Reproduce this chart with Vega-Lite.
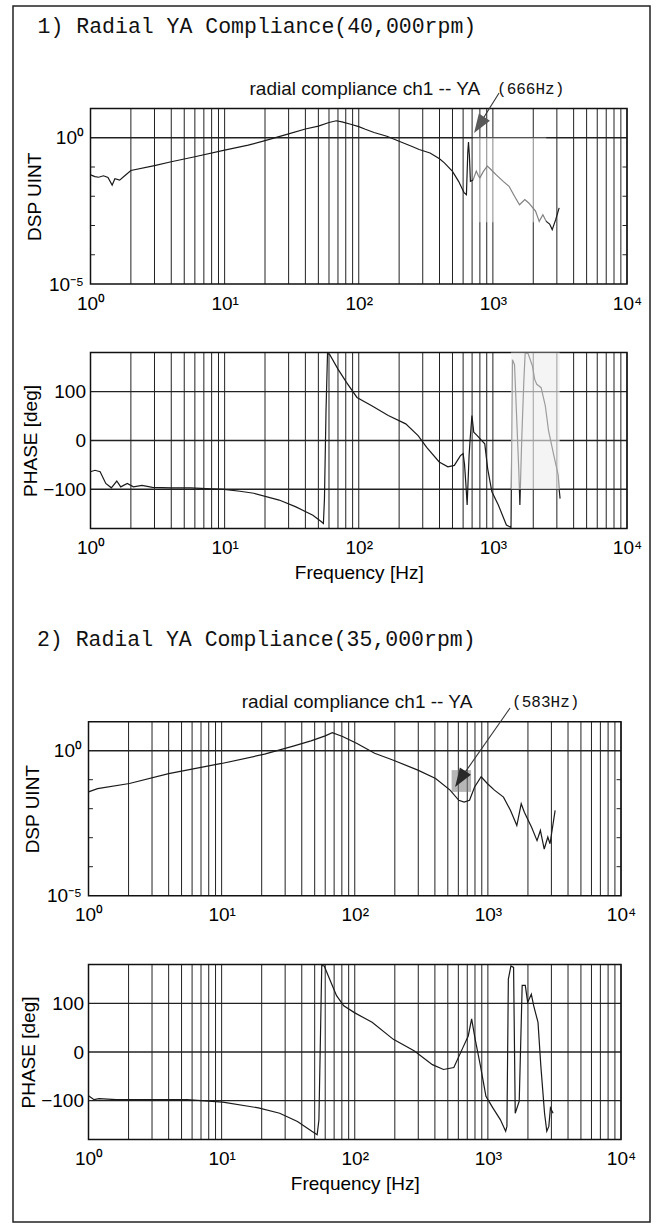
{
  "$schema": "https://vega.github.io/schema/vega-lite/v6.json",
  "width": 637,
  "height": 1216,
  "autosize": {"type": "none"},
  "padding": {"left": 13, "top": 6, "right": 9, "bottom": 3},
  "background": "white",
  "config": {
    "view": {"stroke": "#222", "strokeWidth": 1.5}
  },
  "datasets": {
    "grid": [
      {"f": 1}, {"f": 2}, {"f": 3}, {"f": 4}, {"f": 5}, {"f": 6}, {"f": 7}, {"f": 8}, {"f": 9},
      {"f": 10}, {"f": 20}, {"f": 30}, {"f": 40}, {"f": 50}, {"f": 60}, {"f": 70}, {"f": 80}, {"f": 90},
      {"f": 100}, {"f": 200}, {"f": 300}, {"f": 400}, {"f": 500}, {"f": 600}, {"f": 700}, {"f": 800}, {"f": 900},
      {"f": 1000}, {"f": 2000}, {"f": 3000}, {"f": 4000}, {"f": 5000}, {"f": 6000}, {"f": 7000}, {"f": 8000}, {"f": 9000},
      {"f": 10000}
    ],
    "magticks": [{"v": 0.1}, {"v": 0.01}, {"v": 0.001}, {"v": 0.0001}],
    "phgrid": [{"v": -100}, {"v": 0}, {"v": 100}],
    "mag1": [
      {"f": 1, "v": 0.0537}, {"f": 1.08, "v": 0.0468}, {"f": 1.15, "v": 0.0447}, {"f": 1.25, "v": 0.0501},
      {"f": 1.35, "v": 0.0437}, {"f": 1.45, "v": 0.024}, {"f": 1.52, "v": 0.0398}, {"f": 1.65, "v": 0.0355},
      {"f": 1.8, "v": 0.0501}, {"f": 2, "v": 0.0759}, {"f": 3, "v": 0.112}, {"f": 4, "v": 0.151},
      {"f": 6, "v": 0.224}, {"f": 10, "v": 0.38}, {"f": 15, "v": 0.562}, {"f": 20, "v": 0.794},
      {"f": 30, "v": 1.349}, {"f": 40, "v": 1.995}, {"f": 50, "v": 2.512}, {"f": 60, "v": 3.311},
      {"f": 68, "v": 3.802}, {"f": 75, "v": 3.467}, {"f": 87, "v": 2.884}, {"f": 100, "v": 2.399},
      {"f": 112, "v": 1.95}, {"f": 130, "v": 1.514}, {"f": 162, "v": 1.122}, {"f": 200, "v": 0.759},
      {"f": 250, "v": 0.501}, {"f": 282, "v": 0.398}, {"f": 340, "v": 0.302}, {"f": 400, "v": 0.191},
      {"f": 435, "v": 0.138}, {"f": 500, "v": 0.0708}, {"f": 555, "v": 0.0324}, {"f": 610, "v": 0.0132},
      {"f": 635, "v": 0.0112}, {"f": 650, "v": 0.316}, {"f": 658, "v": 0.708}, {"f": 668, "v": 0.251},
      {"f": 680, "v": 0.0324}, {"f": 711, "v": 0.0355}, {"f": 752, "v": 0.0724}, {"f": 780, "v": 0.0501},
      {"f": 800, "v": 0.0427}, {"f": 850, "v": 0.0708}, {"f": 908, "v": 0.107}, {"f": 950, "v": 0.0891},
      {"f": 1050, "v": 0.0562}, {"f": 1200, "v": 0.0316}, {"f": 1320, "v": 0.0219}, {"f": 1450, "v": 0.01},
      {"f": 1580, "v": 0.00513}, {"f": 1730, "v": 0.00776}, {"f": 1850, "v": 0.00589}, {"f": 2080, "v": 0.00309},
      {"f": 2215, "v": 0.00138}, {"f": 2360, "v": 0.00234}, {"f": 2500, "v": 0.00138}, {"f": 2650, "v": 0.00112},
      {"f": 2770, "v": 0.000724}, {"f": 2940, "v": 0.00158}, {"f": 3120, "v": 0.00398}
    ],
    "ph1": [
      {"f": 1, "v": -64}, {"f": 1.08, "v": -61}, {"f": 1.18, "v": -64}, {"f": 1.3, "v": -88}, {"f": 1.43, "v": -97},
      {"f": 1.57, "v": -83}, {"f": 1.68, "v": -95}, {"f": 1.88, "v": -88}, {"f": 2.09, "v": -95}, {"f": 2.42, "v": -92},
      {"f": 2.9, "v": -96}, {"f": 4, "v": -97}, {"f": 5.56, "v": -97}, {"f": 8, "v": -99}, {"f": 9.9, "v": -100},
      {"f": 13, "v": -104}, {"f": 16.5, "v": -108}, {"f": 25.5, "v": -122}, {"f": 34, "v": -136}, {"f": 45.5, "v": -153},
      {"f": 52.4, "v": -166}, {"f": 54.5, "v": -170}, {"f": 55.5, "v": -120}, {"f": 57, "v": 60}, {"f": 58.5, "v": 178},
      {"f": 60.7, "v": 176}, {"f": 70, "v": 146}, {"f": 81, "v": 119}, {"f": 97, "v": 88}, {"f": 125, "v": 71},
      {"f": 166, "v": 51}, {"f": 224, "v": 34}, {"f": 277, "v": 10}, {"f": 321, "v": -14}, {"f": 398, "v": -44},
      {"f": 462, "v": -54}, {"f": 516, "v": -51}, {"f": 573, "v": -31}, {"f": 600, "v": -27}, {"f": 615, "v": -50},
      {"f": 630, "v": -92}, {"f": 643, "v": -132}, {"f": 653, "v": -85}, {"f": 665, "v": -30}, {"f": 677, "v": 3},
      {"f": 698, "v": 51}, {"f": 720, "v": 17}, {"f": 764, "v": 10}, {"f": 823, "v": 0}, {"f": 870, "v": -7},
      {"f": 915, "v": -58}, {"f": 983, "v": -105}, {"f": 1098, "v": -132}, {"f": 1261, "v": -173}, {"f": 1365, "v": -178},
      {"f": 1400, "v": 165}, {"f": 1450, "v": 155}, {"f": 1560, "v": -60}, {"f": 1590, "v": -132}, {"f": 1640, "v": 0},
      {"f": 1700, "v": 119}, {"f": 1740, "v": 178}, {"f": 1830, "v": 178}, {"f": 1970, "v": 153}, {"f": 2050, "v": 125},
      {"f": 2125, "v": 115}, {"f": 2290, "v": 108}, {"f": 2460, "v": 71}, {"f": 2600, "v": 20}, {"f": 2850, "v": -31},
      {"f": 3070, "v": -71}, {"f": 3120, "v": -100}, {"f": 3170, "v": -119}
    ],
    "mag2": [
      {"f": 1, "v": 0.038}, {"f": 1.17, "v": 0.049}, {"f": 2.03, "v": 0.0741}, {"f": 4, "v": 0.162},
      {"f": 10, "v": 0.363}, {"f": 21, "v": 0.759}, {"f": 34.5, "v": 1.445}, {"f": 46.9, "v": 2.188},
      {"f": 60, "v": 3.236}, {"f": 67.8, "v": 4.169}, {"f": 81, "v": 3.09}, {"f": 104, "v": 1.778},
      {"f": 141, "v": 0.813}, {"f": 193, "v": 0.479}, {"f": 298, "v": 0.214}, {"f": 405, "v": 0.11},
      {"f": 520, "v": 0.0437}, {"f": 605, "v": 0.0195}, {"f": 663, "v": 0.017}, {"f": 728, "v": 0.0195},
      {"f": 795, "v": 0.0562}, {"f": 890, "v": 0.126}, {"f": 990, "v": 0.0741}, {"f": 1120, "v": 0.0437},
      {"f": 1310, "v": 0.0251}, {"f": 1480, "v": 0.00871}, {"f": 1650, "v": 0.00263}, {"f": 1780, "v": 0.0148},
      {"f": 1880, "v": 0.00759}, {"f": 2130, "v": 0.00229}, {"f": 2340, "v": 0.000794}, {"f": 2480, "v": 0.00178},
      {"f": 2650, "v": 0.000407}, {"f": 2820, "v": 0.00105}, {"f": 2930, "v": 0.000617}, {"f": 3200, "v": 0.00871}
    ],
    "ph2": [
      {"f": 1, "v": -90}, {"f": 1.05, "v": -94}, {"f": 1.1, "v": -98}, {"f": 1.2, "v": -96}, {"f": 1.62, "v": -98},
      {"f": 2.99, "v": -98}, {"f": 5.5, "v": -98}, {"f": 10.2, "v": -103}, {"f": 18.9, "v": -115}, {"f": 27.3, "v": -126},
      {"f": 37.1, "v": -143}, {"f": 47.6, "v": -163}, {"f": 52.2, "v": -170}, {"f": 53.8, "v": -140}, {"f": 55.5, "v": 60},
      {"f": 56.5, "v": 178}, {"f": 59, "v": 177}, {"f": 64.7, "v": 150}, {"f": 73, "v": 116}, {"f": 82.7, "v": 95},
      {"f": 99.4, "v": 81}, {"f": 135, "v": 61}, {"f": 195, "v": 26}, {"f": 281, "v": 2}, {"f": 383, "v": -26},
      {"f": 464, "v": -36}, {"f": 555, "v": -32}, {"f": 649, "v": 9}, {"f": 712, "v": 33}, {"f": 755, "v": 68},
      {"f": 803, "v": 26}, {"f": 880, "v": -29}, {"f": 967, "v": -91}, {"f": 1090, "v": -115}, {"f": 1240, "v": -139},
      {"f": 1360, "v": -163}, {"f": 1390, "v": -153}, {"f": 1425, "v": 150}, {"f": 1490, "v": 177}, {"f": 1560, "v": 174},
      {"f": 1605, "v": -126}, {"f": 1720, "v": -101}, {"f": 1810, "v": 137}, {"f": 1910, "v": 137}, {"f": 1990, "v": 102},
      {"f": 2120, "v": 119}, {"f": 2210, "v": 95}, {"f": 2380, "v": 61}, {"f": 2500, "v": -29}, {"f": 2665, "v": -126},
      {"f": 2770, "v": -163}, {"f": 2870, "v": -153}, {"f": 2950, "v": -115}, {"f": 3090, "v": -126}
    ]
  },
  "layer": [
    {"data": {"name": "grid"}, "mark": {"type": "rule", "color": "#222", "strokeWidth": 1},
     "encoding": {
       "x": {"field": "f", "type": "quantitative", "scale": {"type": "log", "domain": [1, 10000], "range": [77.5, 614], "nice": false}, "axis": null},
       "y": {"datum": 0.00001, "type": "quantitative", "scale": {"type": "log", "domain": [0.00001, 10], "range": [278, 102.5], "nice": false}, "axis": null},
       "y2": {"datum": 10}}},
    {"data": {"values": [{"v": 1}]}, "mark": {"type": "rule", "color": "#222", "strokeWidth": 1.4},
     "encoding": {
       "x": {"datum": 1, "type": "quantitative", "scale": {"type": "log", "domain": [1, 10000], "range": [77.5, 614], "nice": false}, "axis": null},
       "x2": {"datum": 10000},
       "y": {"field": "v", "type": "quantitative", "scale": {"type": "log", "domain": [0.00001, 10], "range": [278, 102.5], "nice": false}, "axis": null}}},
    {"data": {"name": "magticks"}, "mark": {"type": "rule", "color": "#222", "strokeWidth": 1},
     "encoding": {
       "x": {"datum": 1, "type": "quantitative", "scale": {"type": "log", "domain": [1, 10000], "range": [77.5, 614], "nice": false}, "axis": null},
       "x2": {"datum": 1.08},
       "y": {"field": "v", "type": "quantitative", "scale": {"type": "log", "domain": [0.00001, 10], "range": [278, 102.5], "nice": false}, "axis": null}}},
    {"data": {"name": "magticks"}, "mark": {"type": "rule", "color": "#222", "strokeWidth": 1},
     "encoding": {
       "x": {"datum": 9260, "type": "quantitative", "scale": {"type": "log", "domain": [1, 10000], "range": [77.5, 614], "nice": false}, "axis": null},
       "x2": {"datum": 10000},
       "y": {"field": "v", "type": "quantitative", "scale": {"type": "log", "domain": [0.00001, 10], "range": [278, 102.5], "nice": false}, "axis": null}}},
    {"data": {"values": [{"a": 1}]}, "mark": {"type": "rect", "fillOpacity": 0, "stroke": "#111", "strokeWidth": 1.5},
     "encoding": {
       "x": {"datum": 1, "type": "quantitative", "scale": {"type": "log", "domain": [1, 10000], "range": [77.5, 614], "nice": false}, "axis": null},
       "x2": {"datum": 10000},
       "y": {"datum": 0.00001, "type": "quantitative", "scale": {"type": "log", "domain": [0.00001, 10], "range": [278, 102.5], "nice": false}, "axis": null},
       "y2": {"datum": 10}}},
    {"data": {"name": "mag1"}, "mark": {"type": "line", "color": "#1a1a1a", "strokeWidth": 1.2},
     "encoding": {
       "x": {"field": "f", "type": "quantitative", "scale": {"type": "log", "domain": [1, 10000], "range": [77.5, 614], "nice": false},
             "axis": {"orient": "bottom", "offset": -938, "values": [1, 10, 100, 1000, 10000], "labelPadding": 10, "title": null,
                      "domain": false, "ticks": false, "grid": false, "labelFont": "Liberation Sans", "labelFontSize": 19, "labelColor": "black",
                      "labelFlush": false, "labelOverlap": false,
                      "labelExpr": "datum.value == 1 ? '10⁰' : datum.value == 10 ? '10¹' : datum.value == 100 ? '10²' : datum.value == 1000 ? '10³' : '10⁴'"}},
       "y": {"field": "v", "type": "quantitative", "scale": {"type": "log", "domain": [0.00001, 10], "range": [278, 102.5], "nice": false},
             "axis": {"orient": "left", "offset": -77.5, "values": [0.00001, 1], "labelPadding": 7, "title": "DSP UINT", "titlePadding": 4,
                      "domain": false, "ticks": false, "grid": false, "labelFont": "Liberation Sans", "labelFontSize": 19, "labelColor": "black",
                      "titleFont": "Liberation Sans", "titleFontSize": 19, "titleFontWeight": "normal", "titleColor": "black",
                      "labelFlush": false, "labelOverlap": false,
                      "labelExpr": "datum.value == 1 ? '10⁰' : '10⁻⁵'"}}}},
    {"data": {"values": [{"f0": 710, "f1": 2500, "v0": 0.0013, "v1": 1.02}]},
     "mark": {"type": "rect", "fill": "white", "fillOpacity": 0.45, "strokeWidth": 0},
     "encoding": {
       "x": {"field": "f0", "type": "quantitative", "scale": {"type": "log", "domain": [1, 10000], "range": [77.5, 614], "nice": false}, "axis": null},
       "x2": {"field": "f1"},
       "y": {"field": "v0", "type": "quantitative", "scale": {"type": "log", "domain": [0.00001, 10], "range": [278, 102.5], "nice": false}, "axis": null},
       "y2": {"field": "v1"}}},
    {"data": {"values": [{"f": 0.403, "v": 6110, "label": "1) Radial YA Compliance(40,000rpm)"}]},
     "mark": {"type": "text", "font": "Liberation Mono", "fontSize": 21.5, "align": "left", "baseline": "middle", "color": "#111"},
     "encoding": {
       "x": {"field": "f", "type": "quantitative", "scale": {"type": "log", "domain": [1, 10000], "range": [77.5, 614], "nice": false}, "axis": null},
       "y": {"field": "v", "type": "quantitative", "scale": {"type": "log", "domain": [0.00001, 10], "range": [278, 102.5], "nice": false}, "axis": null},
       "text": {"field": "label"}}},
    {"data": {"values": [{"f": 111, "v": 46.4, "label": "radial compliance ch1 -- YA"}]},
     "mark": {"type": "text", "font": "Liberation Sans", "fontSize": 19, "align": "center", "baseline": "middle", "color": "#111"},
     "encoding": {
       "x": {"field": "f", "type": "quantitative", "scale": {"type": "log", "domain": [1, 10000], "range": [77.5, 614], "nice": false}, "axis": null},
       "y": {"field": "v", "type": "quantitative", "scale": {"type": "log", "domain": [0.00001, 10], "range": [278, 102.5], "nice": false}, "axis": null},
       "text": {"field": "label"}}},
    {"data": {"values": [{"f": 1074, "v": 46.4, "label": "(666Hz)"}]},
     "mark": {"type": "text", "font": "Liberation Mono", "fontSize": 16, "align": "left", "baseline": "middle", "color": "#111"},
     "encoding": {
       "x": {"field": "f", "type": "quantitative", "scale": {"type": "log", "domain": [1, 10000], "range": [77.5, 614], "nice": false}, "axis": null},
       "y": {"field": "v", "type": "quantitative", "scale": {"type": "log", "domain": [0.00001, 10], "range": [278, 102.5], "nice": false}, "axis": null},
       "text": {"field": "label"}}},
    {"data": {"values": [{"f": 1112, "v": 33.9}, {"f": 740, "v": 1.7}]},
     "mark": {"type": "line", "color": "#333", "strokeWidth": 1.1},
     "encoding": {
       "x": {"field": "f", "type": "quantitative", "scale": {"type": "log", "domain": [1, 10000], "range": [77.5, 614], "nice": false}, "axis": null},
       "y": {"field": "v", "type": "quantitative", "scale": {"type": "log", "domain": [0.00001, 10], "range": [278, 102.5], "nice": false}, "axis": null}}},
    {"data": {"values": [{"f": 724, "v": 1.45}]},
     "mark": {"type": "point", "shape": "M0,0L0.795,-0.617L0.241,-0.977Z", "filled": true, "color": "#5a5a5a", "opacity": 1, "size": 1600},
     "encoding": {
       "x": {"field": "f", "type": "quantitative", "scale": {"type": "log", "domain": [1, 10000], "range": [77.5, 614], "nice": false}, "axis": null},
       "y": {"field": "v", "type": "quantitative", "scale": {"type": "log", "domain": [0.00001, 10], "range": [278, 102.5], "nice": false}, "axis": null}}},

    {"data": {"name": "grid"}, "mark": {"type": "rule", "color": "#222", "strokeWidth": 1},
     "encoding": {
       "x": {"field": "f", "type": "quantitative", "scale": {"type": "log", "domain": [1, 10000], "range": [77.5, 614], "nice": false}, "axis": null},
       "y": {"datum": -180, "type": "quantitative", "scale": {"type": "linear", "domain": [-180, 180], "range": [522.4, 346.5], "nice": false, "zero": false}, "axis": null},
       "y2": {"datum": 180}}},
    {"data": {"name": "phgrid"}, "mark": {"type": "rule", "color": "#222", "strokeWidth": 1.4},
     "encoding": {
       "x": {"datum": 1, "type": "quantitative", "scale": {"type": "log", "domain": [1, 10000], "range": [77.5, 614], "nice": false}, "axis": null},
       "x2": {"datum": 10000},
       "y": {"field": "v", "type": "quantitative", "scale": {"type": "linear", "domain": [-180, 180], "range": [522.4, 346.5], "nice": false, "zero": false}, "axis": null}}},
    {"data": {"values": [{"a": 1}]}, "mark": {"type": "rect", "fillOpacity": 0, "stroke": "#111", "strokeWidth": 1.5},
     "encoding": {
       "x": {"datum": 1, "type": "quantitative", "scale": {"type": "log", "domain": [1, 10000], "range": [77.5, 614], "nice": false}, "axis": null},
       "x2": {"datum": 10000},
       "y": {"datum": -180, "type": "quantitative", "scale": {"type": "linear", "domain": [-180, 180], "range": [522.4, 346.5], "nice": false, "zero": false}, "axis": null},
       "y2": {"datum": 180}}},
    {"data": {"name": "ph1"}, "mark": {"type": "line", "color": "#1a1a1a", "strokeWidth": 1.2},
     "encoding": {
       "x": {"field": "f", "type": "quantitative", "scale": {"type": "log", "domain": [1, 10000], "range": [77.5, 614], "nice": false},
             "axis": {"orient": "bottom", "offset": -693.6, "values": [1, 10, 100, 1000, 10000], "labelPadding": 10, "title": "Frequency [Hz]", "titlePadding": 6,
                      "domain": false, "ticks": false, "grid": false, "labelFont": "Liberation Sans", "labelFontSize": 19, "labelColor": "black",
                      "titleFont": "Liberation Sans", "titleFontSize": 19, "titleFontWeight": "normal", "titleColor": "black",
                      "labelFlush": false, "labelOverlap": false,
                      "labelExpr": "datum.value == 1 ? '10⁰' : datum.value == 10 ? '10¹' : datum.value == 100 ? '10²' : datum.value == 1000 ? '10³' : '10⁴'"}},
       "y": {"field": "v", "type": "quantitative", "scale": {"type": "linear", "domain": [-180, 180], "range": [522.4, 346.5], "nice": false, "zero": false},
             "axis": {"orient": "left", "offset": -77.5, "values": [-100, 0, 100], "labelPadding": 5, "title": "PHASE [deg]", "titlePadding": 2,
                      "domain": false, "ticks": false, "grid": false, "labelFont": "Liberation Sans", "labelFontSize": 19, "labelColor": "black",
                      "titleFont": "Liberation Sans", "titleFontSize": 19, "titleFontWeight": "normal", "titleColor": "black",
                      "labelFlush": false, "labelOverlap": false}}}},
    {"data": {"values": [{"f0": 1365, "f1": 3150, "v0": -100, "v1": 180}]},
     "mark": {"type": "rect", "fill": "#eeeeee", "fillOpacity": 0.62, "strokeWidth": 0},
     "encoding": {
       "x": {"field": "f0", "type": "quantitative", "scale": {"type": "log", "domain": [1, 10000], "range": [77.5, 614], "nice": false}, "axis": null},
       "x2": {"field": "f1"},
       "y": {"field": "v0", "type": "quantitative", "scale": {"type": "linear", "domain": [-180, 180], "range": [522.4, 346.5], "nice": false, "zero": false}, "axis": null},
       "y2": {"field": "v1"}}},

    {"data": {"name": "grid"}, "mark": {"type": "rule", "color": "#222", "strokeWidth": 1},
     "encoding": {
       "x": {"field": "f", "type": "quantitative", "scale": {"type": "log", "domain": [1, 10000], "range": [75.5, 608], "nice": false}, "axis": null},
       "y": {"datum": 0.00001, "type": "quantitative", "scale": {"type": "log", "domain": [0.00001, 10], "range": [889.7, 715.7], "nice": false}, "axis": null},
       "y2": {"datum": 10}}},
    {"data": {"values": [{"v": 1}]}, "mark": {"type": "rule", "color": "#222", "strokeWidth": 1.4},
     "encoding": {
       "x": {"datum": 1, "type": "quantitative", "scale": {"type": "log", "domain": [1, 10000], "range": [75.5, 608], "nice": false}, "axis": null},
       "x2": {"datum": 10000},
       "y": {"field": "v", "type": "quantitative", "scale": {"type": "log", "domain": [0.00001, 10], "range": [889.7, 715.7], "nice": false}, "axis": null}}},
    {"data": {"name": "magticks"}, "mark": {"type": "rule", "color": "#222", "strokeWidth": 1},
     "encoding": {
       "x": {"datum": 1, "type": "quantitative", "scale": {"type": "log", "domain": [1, 10000], "range": [75.5, 608], "nice": false}, "axis": null},
       "x2": {"datum": 1.08},
       "y": {"field": "v", "type": "quantitative", "scale": {"type": "log", "domain": [0.00001, 10], "range": [889.7, 715.7], "nice": false}, "axis": null}}},
    {"data": {"name": "magticks"}, "mark": {"type": "rule", "color": "#222", "strokeWidth": 1},
     "encoding": {
       "x": {"datum": 9260, "type": "quantitative", "scale": {"type": "log", "domain": [1, 10000], "range": [75.5, 608], "nice": false}, "axis": null},
       "x2": {"datum": 10000},
       "y": {"field": "v", "type": "quantitative", "scale": {"type": "log", "domain": [0.00001, 10], "range": [889.7, 715.7], "nice": false}, "axis": null}}},
    {"data": {"values": [{"a": 1}]}, "mark": {"type": "rect", "fillOpacity": 0, "stroke": "#111", "strokeWidth": 1.5},
     "encoding": {
       "x": {"datum": 1, "type": "quantitative", "scale": {"type": "log", "domain": [1, 10000], "range": [75.5, 608], "nice": false}, "axis": null},
       "x2": {"datum": 10000},
       "y": {"datum": 0.00001, "type": "quantitative", "scale": {"type": "log", "domain": [0.00001, 10], "range": [889.7, 715.7], "nice": false}, "axis": null},
       "y2": {"datum": 10}}},
    {"data": {"values": [{"f0": 534, "f1": 748, "v0": 0.038, "v1": 0.214}]},
     "mark": {"type": "rect", "fill": "#7a7a7a", "fillOpacity": 0.55, "strokeWidth": 0},
     "encoding": {
       "x": {"field": "f0", "type": "quantitative", "scale": {"type": "log", "domain": [1, 10000], "range": [75.5, 608], "nice": false}, "axis": null},
       "x2": {"field": "f1"},
       "y": {"field": "v0", "type": "quantitative", "scale": {"type": "log", "domain": [0.00001, 10], "range": [889.7, 715.7], "nice": false}, "axis": null},
       "y2": {"field": "v1"}}},
    {"data": {"name": "mag2"}, "mark": {"type": "line", "color": "#1a1a1a", "strokeWidth": 1.2},
     "encoding": {
       "x": {"field": "f", "type": "quantitative", "scale": {"type": "log", "domain": [1, 10000], "range": [75.5, 608], "nice": false},
             "axis": {"orient": "bottom", "offset": -326.3, "values": [1, 10, 100, 1000, 10000], "labelPadding": 10, "title": null,
                      "domain": false, "ticks": false, "grid": false, "labelFont": "Liberation Sans", "labelFontSize": 19, "labelColor": "black",
                      "labelFlush": false, "labelOverlap": false,
                      "labelExpr": "datum.value == 1 ? '10⁰' : datum.value == 10 ? '10¹' : datum.value == 100 ? '10²' : datum.value == 1000 ? '10³' : '10⁴'"}},
       "y": {"field": "v", "type": "quantitative", "scale": {"type": "log", "domain": [0.00001, 10], "range": [889.7, 715.7], "nice": false},
             "axis": {"orient": "left", "offset": -75.5, "values": [0.00001, 1], "labelPadding": 7, "title": "DSP UINT", "titlePadding": 4,
                      "domain": false, "ticks": false, "grid": false, "labelFont": "Liberation Sans", "labelFontSize": 19, "labelColor": "black",
                      "titleFont": "Liberation Sans", "titleFontSize": 19, "titleFontWeight": "normal", "titleColor": "black",
                      "labelFlush": false, "labelOverlap": false,
                      "labelExpr": "datum.value == 1 ? '10⁰' : '10⁻⁵'"}}}},
    {"data": {"values": [{"f": 0.41, "v": 6560, "label": "2) Radial YA Compliance(35,000rpm)"}]},
     "mark": {"type": "text", "font": "Liberation Mono", "fontSize": 21.5, "align": "left", "baseline": "middle", "color": "#111"},
     "encoding": {
       "x": {"field": "f", "type": "quantitative", "scale": {"type": "log", "domain": [1, 10000], "range": [75.5, 608], "nice": false}, "axis": null},
       "y": {"field": "v", "type": "quantitative", "scale": {"type": "log", "domain": [0.00001, 10], "range": [889.7, 715.7], "nice": false}, "axis": null},
       "text": {"field": "label"}}},
    {"data": {"values": [{"f": 104, "v": 47.8, "label": "radial compliance ch1 -- YA"}]},
     "mark": {"type": "text", "font": "Liberation Sans", "fontSize": 19, "align": "center", "baseline": "middle", "color": "#111"},
     "encoding": {
       "x": {"field": "f", "type": "quantitative", "scale": {"type": "log", "domain": [1, 10000], "range": [75.5, 608], "nice": false}, "axis": null},
       "y": {"field": "v", "type": "quantitative", "scale": {"type": "log", "domain": [0.00001, 10], "range": [889.7, 715.7], "nice": false}, "axis": null},
       "text": {"field": "label"}}},
    {"data": {"values": [{"f": 1521, "v": 47.8, "label": "(583Hz)"}]},
     "mark": {"type": "text", "font": "Liberation Mono", "fontSize": 16, "align": "left", "baseline": "middle", "color": "#111"},
     "encoding": {
       "x": {"field": "f", "type": "quantitative", "scale": {"type": "log", "domain": [1, 10000], "range": [75.5, 608], "nice": false}, "axis": null},
       "y": {"field": "v", "type": "quantitative", "scale": {"type": "log", "domain": [0.00001, 10], "range": [889.7, 715.7], "nice": false}, "axis": null},
       "text": {"field": "label"}}},
    {"data": {"values": [{"f": 1468, "v": 29.7}, {"f": 590, "v": 0.075}]},
     "mark": {"type": "line", "color": "#333", "strokeWidth": 1.1},
     "encoding": {
       "x": {"field": "f", "type": "quantitative", "scale": {"type": "log", "domain": [1, 10000], "range": [75.5, 608], "nice": false}, "axis": null},
       "y": {"field": "v", "type": "quantitative", "scale": {"type": "log", "domain": [0.00001, 10], "range": [889.7, 715.7], "nice": false}, "axis": null}}},
    {"data": {"values": [{"f": 567, "v": 0.056}]},
     "mark": {"type": "point", "shape": "M0,0L0.795,-0.617L0.241,-0.977Z", "filled": true, "color": "#2a2a2a", "opacity": 1, "size": 1600},
     "encoding": {
       "x": {"field": "f", "type": "quantitative", "scale": {"type": "log", "domain": [1, 10000], "range": [75.5, 608], "nice": false}, "axis": null},
       "y": {"field": "v", "type": "quantitative", "scale": {"type": "log", "domain": [0.00001, 10], "range": [889.7, 715.7], "nice": false}, "axis": null}}},

    {"data": {"name": "grid"}, "mark": {"type": "rule", "color": "#222", "strokeWidth": 1},
     "encoding": {
       "x": {"field": "f", "type": "quantitative", "scale": {"type": "log", "domain": [1, 10000], "range": [75.5, 608], "nice": false}, "axis": null},
       "y": {"datum": -180, "type": "quantitative", "scale": {"type": "linear", "domain": [-180, 180], "range": [1133.5, 958.5], "nice": false, "zero": false}, "axis": null},
       "y2": {"datum": 180}}},
    {"data": {"name": "phgrid"}, "mark": {"type": "rule", "color": "#222", "strokeWidth": 1.4},
     "encoding": {
       "x": {"datum": 1, "type": "quantitative", "scale": {"type": "log", "domain": [1, 10000], "range": [75.5, 608], "nice": false}, "axis": null},
       "x2": {"datum": 10000},
       "y": {"field": "v", "type": "quantitative", "scale": {"type": "linear", "domain": [-180, 180], "range": [1133.5, 958.5], "nice": false, "zero": false}, "axis": null}}},
    {"data": {"values": [{"a": 1}]}, "mark": {"type": "rect", "fillOpacity": 0, "stroke": "#111", "strokeWidth": 1.5},
     "encoding": {
       "x": {"datum": 1, "type": "quantitative", "scale": {"type": "log", "domain": [1, 10000], "range": [75.5, 608], "nice": false}, "axis": null},
       "x2": {"datum": 10000},
       "y": {"datum": -180, "type": "quantitative", "scale": {"type": "linear", "domain": [-180, 180], "range": [1133.5, 958.5], "nice": false, "zero": false}, "axis": null},
       "y2": {"datum": 180}}},
    {"data": {"name": "ph2"}, "mark": {"type": "line", "color": "#1a1a1a", "strokeWidth": 1.2},
     "encoding": {
       "x": {"field": "f", "type": "quantitative", "scale": {"type": "log", "domain": [1, 10000], "range": [75.5, 608], "nice": false},
             "axis": {"orient": "bottom", "offset": -82.5, "values": [1, 10, 100, 1000, 10000], "labelPadding": 10, "title": "Frequency [Hz]", "titlePadding": 6,
                      "domain": false, "ticks": false, "grid": false, "labelFont": "Liberation Sans", "labelFontSize": 19, "labelColor": "black",
                      "titleFont": "Liberation Sans", "titleFontSize": 19, "titleFontWeight": "normal", "titleColor": "black",
                      "labelFlush": false, "labelOverlap": false,
                      "labelExpr": "datum.value == 1 ? '10⁰' : datum.value == 10 ? '10¹' : datum.value == 100 ? '10²' : datum.value == 1000 ? '10³' : '10⁴'"}},
       "y": {"field": "v", "type": "quantitative", "scale": {"type": "linear", "domain": [-180, 180], "range": [1133.5, 958.5], "nice": false, "zero": false},
             "axis": {"orient": "left", "offset": -75.5, "values": [-100, 0, 100], "labelPadding": 5, "title": "PHASE [deg]", "titlePadding": 2,
                      "domain": false, "ticks": false, "grid": false, "labelFont": "Liberation Sans", "labelFontSize": 19, "labelColor": "black",
                      "titleFont": "Liberation Sans", "titleFontSize": 19, "titleFontWeight": "normal", "titleColor": "black",
                      "labelFlush": false, "labelOverlap": false}}}}
  ],
  "resolve": {"scale": {"x": "independent", "y": "independent"}, "axis": {"x": "independent", "y": "independent"}}
}
